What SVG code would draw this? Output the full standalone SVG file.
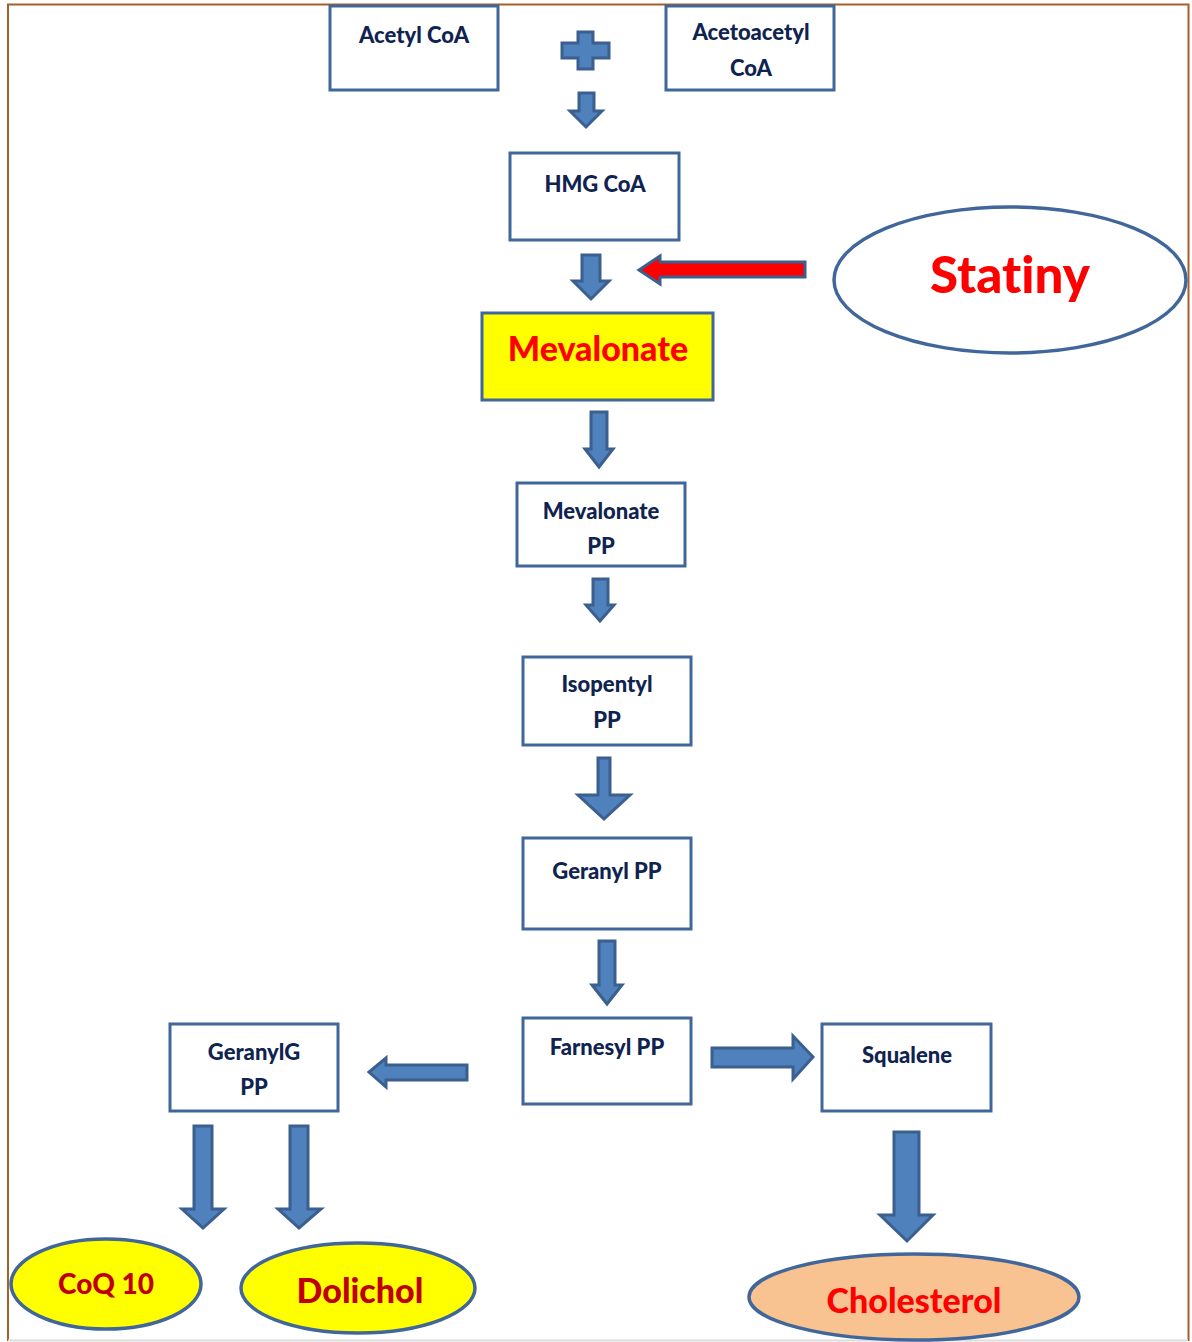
<svg xmlns="http://www.w3.org/2000/svg" width="1192" height="1342" viewBox="0 0 1192 1342">
<style>
.box{fill:#fff;stroke:#41679a;stroke-width:3}
.t{font-family:Lato,"Open Sans","Liberation Sans",sans-serif;font-weight:900;font-size:22px;fill:#0f2350;text-anchor:middle;font-variant-ligatures:none}
.ar{fill:#4f81bd;stroke:#3b5f8e;stroke-width:3;stroke-linejoin:miter}
.ell{stroke:#41679a;stroke-width:3.5}
.big{font-family:Lato,"Open Sans","Liberation Sans",sans-serif;font-weight:900;text-anchor:middle;font-variant-ligatures:none}
</style>
<rect x="0" y="0" width="1192" height="1342" fill="#fff"/>
<path d="M8 1341 V4.5 H1188.5 V1341" fill="none" stroke="#a5602a" stroke-width="2"/>
<line x1="8" y1="1340.5" x2="1188" y2="1340.5" stroke="#ddd" stroke-width="2"/>

<g id="acetyl"><rect class="box" x="330" y="6" width="168" height="84"/><text class="t" x="414" y="43">Acetyl CoA</text></g>
<g id="acetoacetyl"><rect class="box" x="666" y="6" width="168" height="84"/><text class="t" x="751" y="40">Acetoacetyl</text><text class="t" x="751" y="76">CoA</text></g>
<g id="hmg"><rect class="box" x="510" y="153" width="169" height="87"/><text class="t" x="595" y="192">HMG CoA</text></g>
<g id="statiny"><ellipse class="ell" cx="1010" cy="280" rx="176" ry="73" fill="#fff"/><text class="big" x="1010" y="293" font-size="51" fill="#ff0000">Statiny</text></g>
<g id="mevalonate"><rect class="box" x="482" y="313" width="231" height="87" style="fill:#ffff00"/><text class="big" x="598" y="361" font-size="34" fill="#ff0000">Mevalonate</text></g>
<g id="mevpp"><rect class="box" x="517" y="483" width="168" height="83"/><text class="t" x="601" y="519">Mevalonate</text><text class="t" x="601" y="554">PP</text></g>
<g id="isopentyl"><rect class="box" x="523" y="657" width="168" height="88"/><text class="t" x="607" y="692">Isopentyl</text><text class="t" x="607" y="728">PP</text></g>
<g id="geranyl"><rect class="box" x="523" y="838" width="168" height="91"/><text class="t" x="607" y="879">Geranyl PP</text></g>
<g id="farnesyl"><rect class="box" x="523" y="1018" width="168" height="86"/><text class="t" x="607" y="1055">Farnesyl PP</text></g>
<g id="geranylg"><rect class="box" x="170" y="1024" width="168" height="87"/><text class="t" x="254" y="1060">GeranylG</text><text class="t" x="254" y="1095">PP</text></g>
<g id="squalene"><rect class="box" x="822" y="1024" width="169" height="87"/><text class="t" x="907" y="1063">Squalene</text></g>
<g id="coq10"><ellipse class="ell" cx="106" cy="1284" rx="95" ry="45" fill="#ffff00"/><text class="big" x="106" y="1294" font-size="28" fill="#c00000">CoQ 10</text></g>
<g id="dolichol"><ellipse class="ell" cx="358" cy="1288" rx="117" ry="45" fill="#ffff00"/><text class="big" x="360" y="1303" font-size="34" fill="#c00000">Dolichol</text></g>
<g id="cholesterol"><ellipse class="ell" cx="914" cy="1297" rx="165" ry="43" fill="#f8c291"/><text class="big" x="914" y="1313" font-size="34" fill="#ff0000">Cholesterol</text></g>

<g id="connectors">
<path class="ar" d="M578 32 H593 V43 H609 V58 H593 V69 H578 V58 H562 V43 H578 Z"/>
<path class="ar" d="M579 93 H594 V111 H602 L586 127 L570 111 H579 Z"/>
<path class="ar" d="M582 255 H600 V281 H609 L591 299 L573 281 H582 Z"/>
<path d="M805 262 V277 H660 V284 L639 270 L660 256 V262 Z" fill="#ff0000" stroke="#3b5f8e" stroke-width="3"/>
<path class="ar" d="M591 412 H607 V449 H613 L599 467 L585 449 H591 Z"/>
<path class="ar" d="M593 579 H608 V605 H614 L600 621 L586 605 H593 Z"/>
<path class="ar" d="M598 758 H610 V795 H630 L604 819 L578 795 H598 Z"/>
<path class="ar" d="M599 941 H615 V985 H622 L607 1004 L592 985 H599 Z"/>
<path class="ar" d="M467 1065 V1080 H386 V1087 L369 1072 L386 1058 V1065 Z"/>
<path class="ar" d="M712 1048 V1067 H793 V1079 L813 1057 L793 1036 V1048 Z"/>
<path class="ar" d="M194 1126 H212 V1209 H224 L203 1228 L182 1209 H194 Z"/>
<path class="ar" d="M290 1126 H308 V1209 H321 L299 1228 L278 1209 H290 Z"/>
<path class="ar" d="M894 1132 H919 V1215 H933 L907 1241 L880 1215 H894 Z"/>
</g>
</svg>
